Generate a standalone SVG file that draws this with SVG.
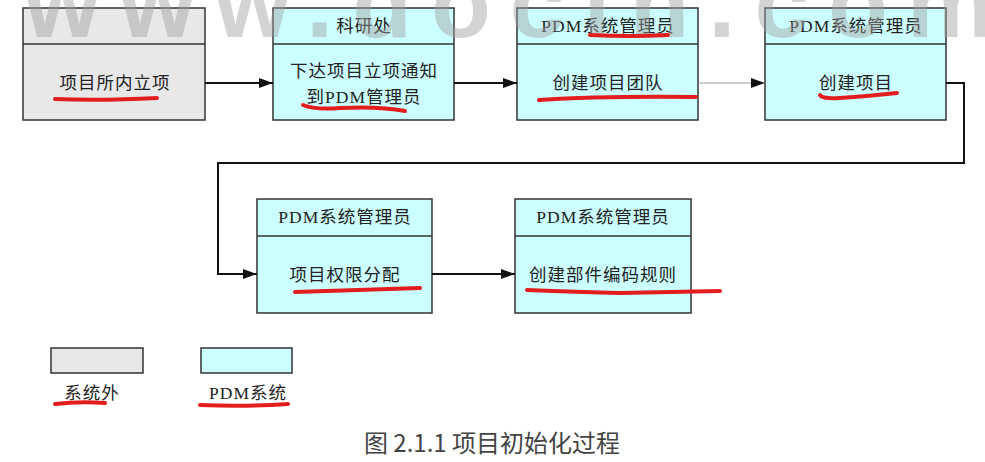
<svg xmlns="http://www.w3.org/2000/svg" width="985" height="462" viewBox="0 0 985 462">
<style>
.box{stroke:#333;stroke-width:1.5}
.out{fill:#e8e8e8}
.pdm{fill:#ccffff}
.div{stroke:#333;stroke-width:1.5}
.t{font-family:"Liberation Serif","Noto Sans CJK SC",serif;font-size:17.5px;fill:#222;text-anchor:middle;letter-spacing:1px}
.c{fill:none;stroke:#111;stroke-width:2}
.thin{fill:none;stroke:#999;stroke-width:1}
.red{fill:none;stroke:#e31d1d;stroke-width:4;stroke-linecap:round;stroke-linejoin:round}
.wm{font-family:"Liberation Sans",sans-serif;font-weight:bold;font-size:98px;fill:#a0a0a0;opacity:0.45}
</style>
<defs>
<marker id="ah" viewBox="0 0 14 10" refX="14" refY="5" markerWidth="14" markerHeight="10" markerUnits="userSpaceOnUse" orient="auto">
<path d="M0,0 L14,5 L0,10 Z" fill="#111"/>
</marker>
</defs>
<rect width="985" height="462" fill="#fff"/>

<g id="n1">
<rect class="box out" x="23" y="8" width="182" height="112"/>
<line class="div" x1="23" y1="44" x2="205" y2="44"/>
<text class="t" x="115" y="89">项目所内立项</text>
</g>
<g id="n2">
<rect class="box pdm" x="273" y="8" width="181" height="112"/>
<line class="div" x1="273" y1="44" x2="454" y2="44"/>
<text class="t" x="364" y="32">科研处</text>
<text class="t" x="364" y="77">下达项目立项通知</text>
<text class="t" x="364" y="103">到PDM管理员</text>
</g>
<g id="n3">
<rect class="box pdm" x="517" y="8" width="181" height="112"/>
<line class="div" x1="517" y1="44" x2="698" y2="44"/>
<text class="t" x="608" y="32">PDM系统管理员</text>
<text class="t" x="608" y="89">创建项目团队</text>
</g>
<g id="n4">
<rect class="box pdm" x="765" y="8" width="181" height="112"/>
<line class="div" x1="765" y1="44" x2="946" y2="44"/>
<text class="t" x="856" y="32">PDM系统管理员</text>
<text class="t" x="856" y="89">创建项目</text>
</g>
<g id="n5">
<rect class="box pdm" x="257" y="199" width="175" height="114"/>
<line class="div" x1="257" y1="236" x2="432" y2="236"/>
<text class="t" x="345" y="223">PDM系统管理员</text>
<text class="t" x="345" y="281">项目权限分配</text>
</g>
<g id="n6">
<rect class="box pdm" x="515" y="199" width="176" height="114"/>
<line class="div" x1="515" y1="236" x2="691" y2="236"/>
<text class="t" x="603" y="223">PDM系统管理员</text>
<text class="t" x="603" y="281">创建部件编码规则</text>
</g>

<g id="connectors">
<line class="c" x1="205" y1="83" x2="273" y2="83" marker-end="url(#ah)"/>
<line class="c" x1="454" y1="83" x2="517" y2="83" marker-end="url(#ah)"/>
<line class="thin" x1="698" y1="83" x2="765" y2="83" marker-end="url(#ah)"/>
<polyline class="c" points="946,83 964,83 964,163 218,163 218,274 257,274" marker-end="url(#ah)"/>
<line class="c" x1="432" y1="274" x2="515" y2="274" marker-end="url(#ah)"/>
</g>

<g id="legend">
<rect class="box out" x="51" y="348" width="92" height="25"/>
<rect class="box pdm" x="201" y="348" width="91" height="25"/>
<text class="t" x="92" y="399">系统外</text>
<text class="t" x="248" y="399">PDM系统</text>
</g>

<text x="492" y="452" font-family="'Noto Sans CJK SC','Liberation Sans',sans-serif" font-size="24" fill="#444" text-anchor="middle">图 2.1.1 项目初始化过程</text>

<text class="wm" x="24" y="37" textLength="970" lengthAdjust="spacing">www.docin.com</text>

<g id="marks">
<path class="red" d="M55,99 Q100,101 157,98"/>
<path class="red" d="M303,105 Q315,110 340,108 Q380,106 405,111"/>
<path class="red" d="M590,35 Q630,37 668,35"/>
<path class="red" d="M539,100 Q600,96 696,97"/>
<path class="red" d="M820,95 Q822,99 840,98 Q870,96 897,93"/>
<path class="red" d="M295,292 Q350,290 420,288"/>
<path class="red" d="M527,290 Q580,292 620,293 Q680,292 720,291"/>
<path class="red" d="M55,404 Q80,401 105,403"/>
<path class="red" d="M200,405 Q245,407 288,404"/>
</g>
</svg>
